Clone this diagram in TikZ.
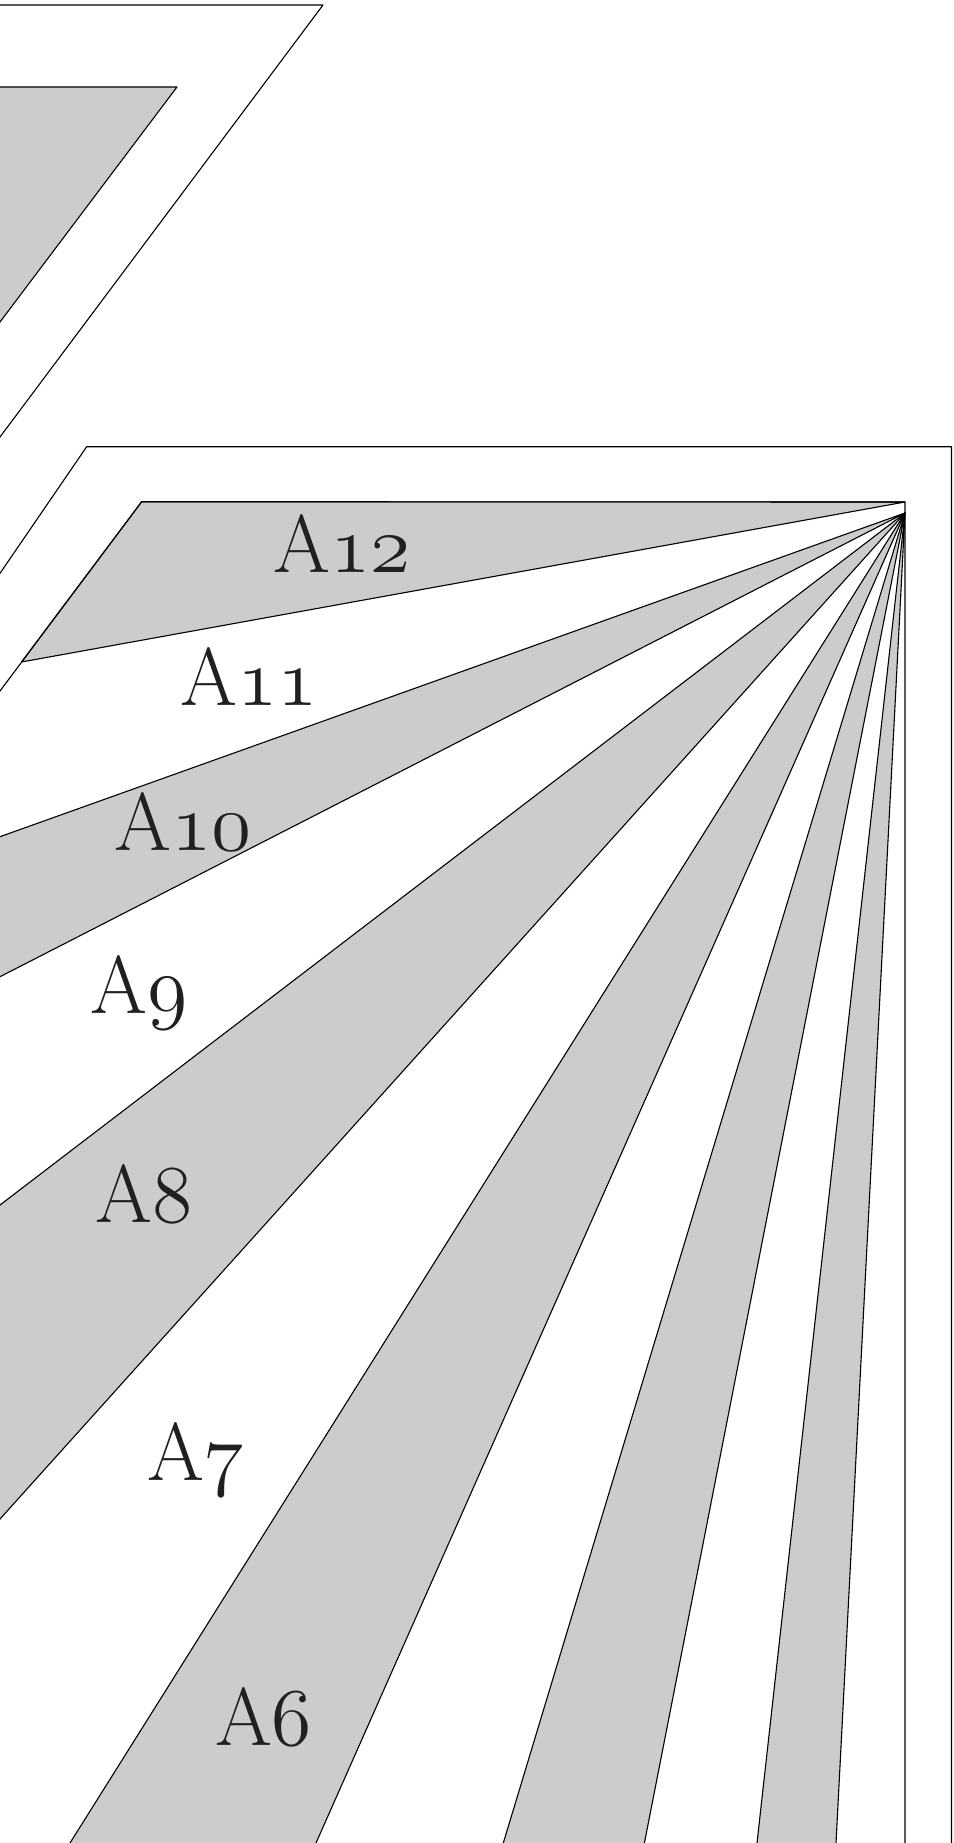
\documentclass[tikz,border=0pt]{standalone}
\usepackage{fix-cm}
\usetikzlibrary{calc}
\definecolor{bandgray}{RGB}{204,204,204}
\definecolor{ink}{RGB}{35,31,32}
\newcommand{\osfnum}[1]{{\fontencoding{OML}\fontfamily{cmm}\fontseries{m}\fontshape{it}\selectfont #1}}
\begin{document}
\begin{tikzpicture}[x=1pt,y=-1pt,line width=1.1pt,line join=round,
  edge/.style={draw=black},
  band/.style={fill=bandgray,draw=black},
  lab/.style={anchor=base,inner sep=0pt,text=ink,font=\fontsize{82}{98}\selectfont}]
\useasboundingbox (0,0) rectangle (953,1843);
\clip (0,0) rectangle (953,1843);
\fill[white] (0,0) rectangle (953,1843);

% ---------- upper (cut-off) figure ----------
\coordinate (tOut) at (323,5);
\coordinate (tOutL) at (0,437);
\coordinate (tIn) at (177,87);
\coordinate (tInL) at (0,322);
\filldraw[band] (-10,87) -- (tIn) -- ($(tIn)!1.1!(tInL)$) -- (-10,340) -- cycle;
\draw[edge] (-10,5) -- (tOut) -- ($(tOut)!1.1!(tOutL)$);

% ---------- lower figure: frames ----------
\coordinate (oTL) at (86.7,446.7);
\coordinate (oL) at (0,573.3);
\coordinate (oTR) at (951.5,446.7);
\coordinate (iTL) at (141.7,501.7);
\coordinate (iL) at (0,691);
\coordinate (iTR) at (905,502);
\coordinate (iK) at (21.5,662);
\coordinate (P) at (905,513);

\draw[edge] ($(oTL)!1.2!(oL)$) -- (oTL) -- (oTR) -- (951.5,1900);

% A12
\filldraw[band] (iTL) -- (iTR) -- (iK) -- cycle;

% fan edge points
\coordinate (e1) at (0,836.7);
\coordinate (e2) at (0,976.7);
\coordinate (e3) at (0,1205);
\coordinate (e4) at (0,1519);
\coordinate (b1) at (70,1843);
\coordinate (b2) at (316,1843);
\coordinate (b3) at (503.3,1843);
\coordinate (b4) at (644.4,1843);
\coordinate (b5) at (757,1843);
\coordinate (b6) at (836,1843);

% gray bands A10, A8, A6, A4, A2
\filldraw[band] (P) -- ($(P)!1.1!(e1)$) -- ($(P)!1.1!(e2)$) -- cycle;
\filldraw[band] (P) -- ($(P)!1.1!(e3)$) -- ($(P)!1.1!(e4)$) -- cycle;
\filldraw[band] (P) -- ($(P)!1.1!(b1)$) -- ($(P)!1.1!(b2)$) -- cycle;
\filldraw[band] (P) -- ($(P)!1.1!(b3)$) -- ($(P)!1.1!(b4)$) -- cycle;
\filldraw[band] (P) -- ($(P)!1.1!(b5)$) -- ($(P)!1.1!(b6)$) -- cycle;

% inner frame
\draw[edge] ($(iTL)!1.15!(iL)$) -- (iTL) -- (iTR) -- (905,1900);

% labels
\node[lab] (l12) at (342,572) {A\osfnum{12}};
\node[lab] (l11) at (249,705) {A\osfnum{11}};
\node[lab] (l10) at (183.5,850) {A\osfnum{10}};
\node[lab] (l9) at (139,1013) {A\osfnum{9}};
\node[lab] (l8) at (144,1222.7) {A\osfnum{8}};
\node[lab] (l7) at (195.5,1480.7) {A\osfnum{7}};
\node[lab] (l6) at (263.5,1745) {A\osfnum{6}};
\end{tikzpicture}
\end{document}
